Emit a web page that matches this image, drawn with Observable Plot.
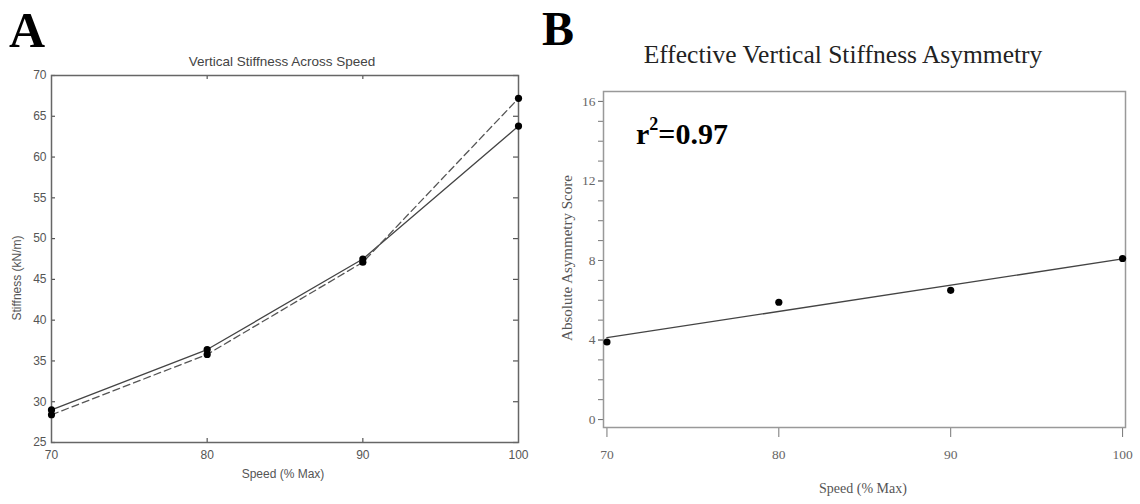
<!DOCTYPE html>
<html>
<head>
<meta charset="utf-8">
<script src="https://cdn.jsdelivr.net/npm/d3@7"></script>
<script src="https://cdn.jsdelivr.net/npm/@observablehq/plot@0.6"></script>
<style>
  body { margin: 0; background: #fff; }
  #wrap { position: relative; width: 1140px; height: 504px; overflow: hidden; background: #fff; }
  #wrap svg { position: absolute; top: 0; overflow: visible; }
  .lbl { position: absolute; white-space: nowrap; transform: translate(-50%, -50%); line-height: 1; }
  .rot { transform: translate(-50%, -50%) rotate(-90deg); }
  .sans { font-family: "Liberation Sans", Arial, sans-serif; color: #555; }
  .serif { font-family: "Liberation Serif", "Times New Roman", serif; }
</style>
</head>
<body>
<div id="wrap"></div>
<script>
// Panel A data
const speeds = [70, 80, 90, 100];
const stiffnessSolid = [29.0, 36.4, 47.5, 63.8];
const stiffnessDashed = [28.4, 35.8, 47.1, 67.2];
const stiffTicks = [25, 30, 35, 40, 45, 50, 55, 60, 65, 70];
const speedTicks = [70, 80, 90, 100];
const innerSpeedTicks = [80, 90];

// Panel B data
const asymmetry = [3.9, 5.9, 6.5, 8.1];
const asymMajorTicks = [0, 4, 8, 12, 16];
const asymMinorTicks = d3.range(0, 17);

const textA = {
  panel: "A", title: "Vertical Stiffness Across Speed",
  xLabel: "Speed (% Max)", yLabel: "Stiffness (kN/m)"
};
const textB = {
  panel: "B", title: "Effective Vertical Stiffness Asymmetry",
  xLabel: "Speed (% Max)", yLabel: "Absolute Asymmetry Score", r2: "0.97"
};

const solid = speeds.map((s, i) => ({speed: s, k: stiffnessSolid[i]}));
const dashed = speeds.map((s, i) => ({speed: s, k: stiffnessDashed[i]}));
const asymData = speeds.map((s, i) => ({speed: s, a: asymmetry[i]}));

const wrap = document.getElementById("wrap");

// ---------- Panel A ----------
const A = {width: 560, height: 504, ml: 51, mr: 42, mt: 75, mb: 62};
const innerWA = A.width - A.ml - A.mr;
const innerHA = A.height - A.mt - A.mb;
const plotA = Plot.plot({
  width: A.width, height: A.height,
  marginLeft: A.ml, marginRight: A.mr, marginTop: A.mt, marginBottom: A.mb,
  x: {domain: [70, 100]},
  y: {domain: [25, 70]},
  style: {fontFamily: "Liberation Sans, Arial, sans-serif", fontSize: "12px", color: "#555", background: "transparent"},
  marks: [
    Plot.axisY({ticks: stiffTicks, tickSize: 0, tickPadding: 5, anchor: "left", label: null, fill: "#555"}),
    Plot.axisX({ticks: speedTicks, tickSize: 0, tickPadding: 8, anchor: "bottom", label: null, fill: "#555"}),
    // inward ticks
    Plot.tickY(stiffTicks, {y: d => d, stroke: "#555", strokeWidth: 1.2, insetRight: innerWA - 4}),
    Plot.tickY(stiffTicks, {y: d => d, stroke: "#555", strokeWidth: 1.2, insetLeft: innerWA - 5}),
    Plot.tickX(innerSpeedTicks, {x: d => d, stroke: "#555", strokeWidth: 1.2, insetBottom: innerHA - 4}),
    Plot.tickX(innerSpeedTicks, {x: d => d, stroke: "#555", strokeWidth: 1.2, insetTop: innerHA - 4}),
    Plot.frame({stroke: "#666", strokeWidth: 1.5}),
    Plot.line(solid, {x: "speed", y: "k", stroke: "#444", strokeWidth: 1.3}),
    Plot.line(dashed, {x: "speed", y: "k", stroke: "#555", strokeWidth: 1.3, strokeDasharray: "7,4"}),
    Plot.dot(solid, {x: "speed", y: "k", r: 3.6, fill: "#000"}),
    Plot.dot(dashed, {x: "speed", y: "k", r: 3.6, fill: "#000"})
  ]
});
plotA.style.left = "0px";
wrap.appendChild(plotA);

// ---------- Panel B ----------
const plotB = Plot.plot({
  width: 580, height: 504,
  marginLeft: 43, marginRight: 15, marginTop: 91, marginBottom: 77,
  x: {domain: [69.8, 100.17]},
  y: {domain: [-0.4, 16.5]},
  style: {fontFamily: "Liberation Serif, Times New Roman, serif", fontSize: "13.5px", color: "#666", background: "transparent"},
  marks: [
    Plot.axisY({ticks: asymMinorTicks, tickSize: 5, tickFormat: () => "", label: null, stroke: "#777"}),
    Plot.axisY({ticks: asymMajorTicks, tickSize: 5, tickPadding: 3, label: null, stroke: "#777", fill: "#666"}),
    Plot.axisX({ticks: speedTicks, tickSize: 10, tickPadding: 12, label: null, stroke: "#777", fill: "#666"}),
    Plot.frame({stroke: "#999", strokeWidth: 1.5}),
    Plot.linearRegressionY(asymData, {x: "speed", y: "a", ci: 0, stroke: "#444", strokeWidth: 1.4}),
    Plot.dot(asymData, {x: "speed", y: "a", r: 3.6, fill: "#000"})
  ]
});
plotB.style.left = "560px";
wrap.appendChild(plotB);

// ---------- Text ----------
function addLabel(text, x, y, cls, css) {
  const d = document.createElement("div");
  d.className = "lbl " + cls;
  d.innerHTML = text;
  d.style.left = x + "px";
  d.style.top = y + "px";
  Object.assign(d.style, css || {});
  wrap.appendChild(d);
  return d;
}
addLabel(textA.panel, 27, 30, "serif", {fontSize: "50px", fontWeight: "bold", color: "#000"});
addLabel(textA.title, 282, 62, "sans", {fontSize: "13.5px", color: "#444"});
addLabel(textA.xLabel, 283, 474, "sans", {fontSize: "12px"});
addLabel(textA.yLabel, 17, 278, "sans rot", {fontSize: "12px"});

addLabel(textB.panel, 558, 29, "serif", {fontSize: "48px", fontWeight: "bold", color: "#000"});
addLabel(textB.title, 843, 55, "serif", {fontSize: "25.5px", color: "#222"});
addLabel(textB.xLabel, 863, 489, "serif", {fontSize: "14px", color: "#555"});
addLabel(textB.yLabel, 567, 258, "serif rot", {fontSize: "15px", color: "#555"});
addLabel("r<sup style='font-size:0.6em;vertical-align:0.75em'>2</sup>=" + textB.r2, 682, 132, "serif", {fontSize: "30px", fontWeight: "bold", color: "#000"});
</script>
</body>
</html>
